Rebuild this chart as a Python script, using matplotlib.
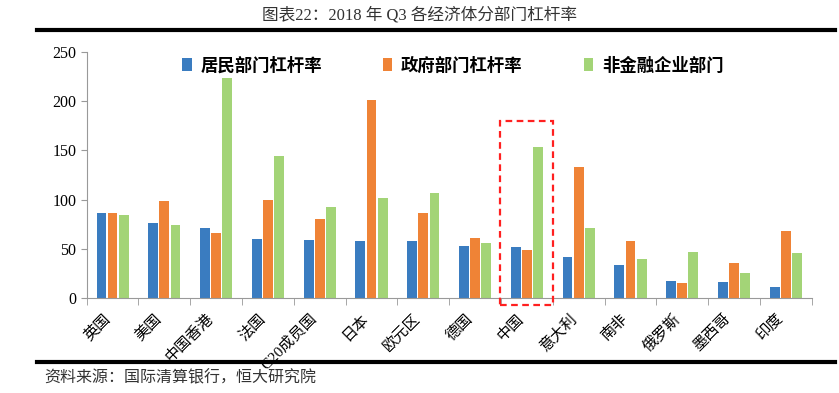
import matplotlib
matplotlib.use("Agg")
import matplotlib.pyplot as plt
import matplotlib.transforms as mtransforms
from matplotlib.lines import Line2D
from matplotlib.patches import Rectangle
import numpy as np

plt.rcParams['font.family'] = ['Liberation Serif', 'Noto Sans CJK SC', 'DejaVu Sans']

# 数据
countries = ["英国", "美国", "中国香港", "法国", "G20成员国", "日本", "欧元区",
             "德国", "中国", "意大利", "南非", "俄罗斯", "墨西哥", "印度"]
household = [86, 76, 71, 60, 59, 58, 58, 53, 52, 41, 33, 17, 16, 11]
government = [86, 99, 66, 100, 80, 201, 86, 61, 49, 133, 58, 15, 35, 68]
corporate = [84, 74, 224, 144, 92, 102, 107, 56, 154, 71, 39, 47, 25, 46]
series_names = ["居民部门杠杆率", "政府部门杠杆率", "非金融企业部门"]

colors = ["#3A7CC0", "#EF8336", "#A3D477"]

fig = plt.figure(figsize=(8.39, 3.93), dpi=100)
ax = fig.add_axes([0.1033, 0.2425, 0.8642, 0.6245])

x = np.arange(len(countries))
w = 0.19
step = 0.215
for i, vals in enumerate([household, government, corporate]):
    ax.bar(x + (i - 1) * step, vals, width=w, color=colors[i],
           label=series_names[i], zorder=2)

ax.set_xlim(-0.5, len(countries) - 0.5)
ax.set_ylim(0, 250)
ax.set_yticks([0, 50, 100, 150, 200, 250])
ax.tick_params(axis='y', labelsize=11.5, direction='out', length=4, color='#999999')

# x 轴刻度在类别之间
ax.set_xticks(x)
ax.set_xticklabels(countries, rotation=45, ha='right', rotation_mode='anchor',
                   fontsize=11)
ax.tick_params(axis='x', length=0, pad=10)
shift = mtransforms.ScaledTranslation(-10 / 100, 0, fig.dpi_scale_trans)
for lab in ax.get_xticklabels():
    lab.set_transform(lab.get_transform() + shift)
ax.set_xticks(np.arange(-0.5, len(countries)), minor=True)
ax.tick_params(axis='x', which='minor', length=5, color='#999999')

for s in ['top', 'right']:
    ax.spines[s].set_visible(False)
ax.spines['left'].set_color('#999999')
ax.spines['bottom'].set_color('#999999')

# 中国 红色虚线框
box = Rectangle((7.49, -7.5), 1.02, 187.5, fill=False, edgecolor='#FF2020',
                linestyle=(0, (3, 2)), linewidth=1.6, clip_on=False, zorder=3)
ax.add_patch(box)

leg = ax.legend(loc='upper center', bbox_to_anchor=(0.505, 1.045), ncol=3,
                frameon=False, handlelength=0.55, handleheight=0.8,
                columnspacing=3.5, handletextpad=0.5,
                prop={'family': ['Noto Sans CJK SC'], 'weight': 'bold', 'size': 12.5})

fig.text(0.5, 0.962, "图表22：2018 年 Q3 各经济体分部门杠杆率", ha='center', va='center',
         fontsize=12, color='#333333')
fig.add_artist(Line2D([0.044, 0.995], [0.923, 0.923], color='black', linewidth=3))
fig.add_artist(Line2D([0.044, 0.995], [0.079, 0.079], color='black', linewidth=3))
fig.text(0.053, 0.038, "资料来源：国际清算银行，恒大研究院", ha='left', va='center',
         fontsize=11.5, color='#333333', style='italic')

fig.savefig("out.png", dpi=100)
